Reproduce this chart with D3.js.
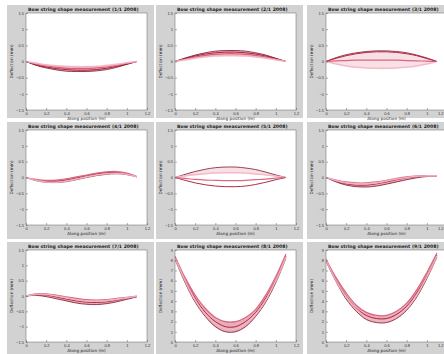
<!DOCTYPE html>
<html><head><meta charset="utf-8">
<script src="https://cdn.jsdelivr.net/npm/d3@7"></script>
<style>body{margin:0;background:#fff}svg{display:block}</style>
</head><body>
<script>
// ---------- data ----------
const xs = [0, 0.1, 0.2, 0.3, 0.4, 0.5, 0.6, 0.7, 0.8, 0.9, 1.0, 1.1];
const xTicks = [0, 0.2, 0.4, 0.6, 0.8, 1, 1.2];
const yTicksFlat = [-1.5, -1, -0.5, 0, 0.5, 1, 1.5];
const yTicksBowl = [0, 1, 2, 3, 4, 5, 6, 7, 8, 9];
const titles = [
  "Bow string shape measurement (1/1 2008)",
  "Bow string shape measurement (2/1 2008)",
  "Bow string shape measurement (3/1 2008)",
  "Bow string shape measurement (4/1 2008)",
  "Bow string shape measurement (5/1 2008)",
  "Bow string shape measurement (6/1 2008)",
  "Bow string shape measurement (7/1 2008)",
  "Bow string shape measurement (8/1 2008)",
  "Bow string shape measurement (9/1 2008)"
];
const xLabel = "Along position (m)";
const yLabel = "Deflection (mm)";

const p1 = [
  [0,-0.1,-0.17,-0.22,-0.25,-0.27,-0.27,-0.25,-0.21,-0.15,-0.08,0],
  [0,-0.12,-0.2,-0.26,-0.3,-0.31,-0.31,-0.29,-0.25,-0.18,-0.09,0],
  [0,-0.08,-0.14,-0.18,-0.21,-0.22,-0.22,-0.2,-0.17,-0.12,-0.06,0],
  [0,-0.05,-0.1,-0.13,-0.15,-0.16,-0.16,-0.15,-0.12,-0.09,-0.04,0]
];
const p2 = [
  [0,0.09,0.17,0.23,0.27,0.29,0.29,0.27,0.23,0.17,0.09,0],
  [0,0.11,0.2,0.27,0.32,0.34,0.34,0.32,0.27,0.2,0.1,0],
  [0,0.07,0.14,0.19,0.22,0.24,0.24,0.22,0.19,0.14,0.07,0],
  [0,0.05,0.1,0.14,0.17,0.18,0.18,0.17,0.14,0.1,0.05,0]
];
const p3 = [
  [0,0.12,0.21,0.27,0.31,0.33,0.33,0.31,0.27,0.2,0.11,0],
  [0,0.1,0.18,0.24,0.28,0.3,0.3,0.28,0.24,0.18,0.09,0],
  [0,-0.08,-0.14,-0.18,-0.2,-0.21,-0.21,-0.2,-0.18,-0.14,-0.08,0],
  [0,0.02,0.03,0.04,0.04,0.04,0.04,0.04,0.03,0.02,0.01,0]
];
const p4 = [
  [0,-0.08,-0.12,-0.12,-0.08,-0.02,0.05,0.11,0.15,0.16,0.12,0.02],
  [0,-0.1,-0.15,-0.16,-0.13,-0.07,0,0.06,0.1,0.12,0.09,0.02],
  [0,-0.06,-0.09,-0.08,-0.04,0.02,0.08,0.14,0.18,0.19,0.14,0.03],
  [0,-0.09,-0.14,-0.15,-0.11,-0.05,0.02,0.08,0.12,0.13,0.1,0.02]
];
const p5 = [
  [0,0.1,0.19,0.26,0.31,0.33,0.33,0.3,0.25,0.17,0.08,0],
  [0,-0.09,-0.17,-0.23,-0.27,-0.29,-0.29,-0.27,-0.22,-0.15,-0.07,0],
  [0,0.05,0.09,0.12,0.14,0.15,0.15,0.14,0.11,0.08,0.04,0],
  [0,-0.03,-0.06,-0.08,-0.09,-0.1,-0.1,-0.09,-0.07,-0.05,-0.02,0]
];
const p6 = [
  [0,-0.12,-0.2,-0.24,-0.24,-0.2,-0.14,-0.07,-0.01,0.03,0.05,0.05],
  [0,-0.14,-0.24,-0.29,-0.3,-0.27,-0.21,-0.14,-0.07,-0.01,0.03,0.04],
  [0,-0.08,-0.14,-0.17,-0.17,-0.14,-0.09,-0.03,0.02,0.05,0.06,0.06],
  [0,-0.1,-0.17,-0.2,-0.2,-0.17,-0.11,-0.05,0,0.04,0.05,0.05]
];
const p7 = [
  [0,0.04,0.03,-0.03,-0.1,-0.16,-0.2,-0.21,-0.19,-0.14,-0.08,-0.02],
  [0,0.02,-0.02,-0.09,-0.16,-0.23,-0.27,-0.28,-0.25,-0.19,-0.11,-0.03],
  [0,0.07,0.07,0.03,-0.03,-0.08,-0.12,-0.13,-0.12,-0.08,-0.04,0],
  [0,0.05,0.05,0,-0.06,-0.12,-0.16,-0.17,-0.15,-0.11,-0.06,-0.01]
];
const p8 = [
  [8.3,6.1,4.3,2.9,2.0,1.5,1.5,2.0,2.9,4.3,6.1,8.4],
  [8.1,5.8,3.9,2.5,1.5,1.0,1.0,1.5,2.5,3.9,5.8,8.2],
  [8.4,6.3,4.6,3.3,2.4,2.0,2.0,2.4,3.2,4.6,6.4,8.6],
  [8.2,6.0,4.1,2.7,1.8,1.3,1.3,1.8,2.7,4.1,6.0,8.3]
];
const p9 = [
  [8.0,6.1,4.5,3.3,2.6,2.3,2.3,2.7,3.5,4.8,6.5,8.5],
  [7.9,5.9,4.2,3.0,2.2,1.9,1.9,2.3,3.1,4.4,6.2,8.3],
  [8.1,6.3,4.8,3.6,2.9,2.6,2.6,3.0,3.8,5.1,6.8,8.7],
  [8.0,6.0,4.4,3.2,2.4,2.1,2.1,2.5,3.3,4.6,6.4,8.4]
];
const panelData = [p1,p2,p3,p4,p5,p6,p7,p8,p9];
const bowlPanels = [false,false,false,false,false,false,false,true,true];
const lensPanels = [false,false,true,false,true,false,false,false,false];

// ---------- layout ----------
const W = 444, H = 354;
const colX = [7, 156, 307];
const rowY = [5, 122, 242];
const rowH = [113, 117, 115];
const plotTop = [8, 8, 8];
const plotH = [97, 95, 92];
const panelW = 147;
const ml = 19, pw = 121;
const strokeCols = ["#f2b6c4", "#d65a76", "#a8142e", "#6e0012"];
const strokeW = [1.6, 1.2, 1.0, 0.8];

const svg = d3.select("body").append("svg").attr("width", W).attr("height", H)
  .style("font-family", "'DejaVu Sans', Arial, sans-serif");

panelData.forEach((series, i) => {
  const r = Math.floor(i / 3), c = i % 3;
  const g = svg.append("g").attr("transform", `translate(${colX[c]},${rowY[r]})`);
  g.append("rect").attr("width", panelW).attr("height", rowH[r]).attr("fill", "#d2d2d2");
  const pt = plotTop[r], ph = plotH[r];
  const x = d3.scaleLinear().domain([0, 1.2]).range([ml, ml + pw]);
  const y = bowlPanels[i]
    ? d3.scaleLinear().domain([0, 9]).range([pt + ph, pt])
    : d3.scaleLinear().domain([-1.5, 1.5]).range([pt + ph, pt]);
  g.append("rect").attr("x", ml).attr("y", pt).attr("width", pw).attr("height", ph).attr("fill", "#fff");

  const clipId = "clip" + i;
  g.append("clipPath").attr("id", clipId).append("rect")
    .attr("x", ml).attr("y", pt).attr("width", pw).attr("height", ph);
  const pg = g.append("g").attr("clip-path", `url(#${clipId})`);

  if (lensPanels[i]) {
    const up = series[0], lo = series[2];
    const area = d3.area().x((d, k) => x(xs[k])).y0((d, k) => y(lo[k])).y1((d, k) => y(up[k]))
      .curve(d3.curveCatmullRom);
    pg.append("path").datum(up).attr("d", area).attr("fill", "#f9dfe6");
  } else {
    const ext = xs.map((_, k) => [d3.min(series, s => s[k]), d3.max(series, s => s[k])]);
    const area = d3.area().x((d, k) => x(xs[k])).y0(d => y(d[0])).y1(d => y(d[1]))
      .curve(d3.curveCatmullRom);
    pg.append("path").datum(ext).attr("d", area).attr("fill", "#d9788f").attr("opacity", 0.6);
  }
  const line = d3.line().x((d, k) => x(xs[k])).y(d => y(d)).curve(d3.curveCatmullRom);
  series.forEach((s, k) => {
    const ci = lensPanels[i] ? [3, 2, 0, 1][k] : [2, 3, 1, 0][k];
    pg.append("path").datum(s).attr("d", line).attr("fill", "none")
      .attr("stroke", strokeCols[ci]).attr("stroke-width", strokeW[ci]).attr("opacity", 0.9);
  });

  const yt = bowlPanels[i] ? yTicksBowl : yTicksFlat;
  const xa = d3.axisBottom(x).tickValues(xTicks).tickSize(-2).tickPadding(2).tickFormat(d3.format("~g"));
  const ya = d3.axisLeft(y).tickValues(yt).tickSize(-2).tickPadding(2).tickFormat(d3.format("~g"));
  const gx = g.append("g").attr("transform", `translate(0,${pt + ph})`).call(xa);
  const gy = g.append("g").attr("transform", `translate(${ml},0)`).call(ya);
  [gx, gy].forEach(a => {
    a.select(".domain").remove();
    a.selectAll("line").attr("stroke", "#555").attr("stroke-width", 0.5);
    a.selectAll("text").attr("font-size", 4).attr("fill", "#333");
  });
  // keep the last x tick label inside the window
  gx.selectAll(".tick text").filter(d => colX[c] + x(d) + 4 > W)
    .attr("text-anchor", "end")
    .attr("x", d => (W - 1) - (colX[c] + x(d)));

  g.append("rect").attr("x", ml).attr("y", pt).attr("width", pw).attr("height", ph)
    .attr("fill", "none").attr("stroke", "#666").attr("stroke-width", 0.5);

  g.append("text").attr("x", ml + 2).attr("y", pt - 2).attr("font-size", 4.6).attr("font-weight", "bold")
    .attr("fill", "#222").text(titles[i]);
  g.append("text").attr("x", ml + pw / 2).attr("y", pt + ph + 10).attr("text-anchor", "middle")
    .attr("font-size", 4.2).attr("fill", "#222").text(xLabel);
  g.append("text").attr("transform", `translate(6,${pt + ph / 2}) rotate(-90)`).attr("text-anchor", "middle")
    .attr("font-size", 4.2).attr("fill", "#222").text(yLabel);
});
</script>
</body></html>
